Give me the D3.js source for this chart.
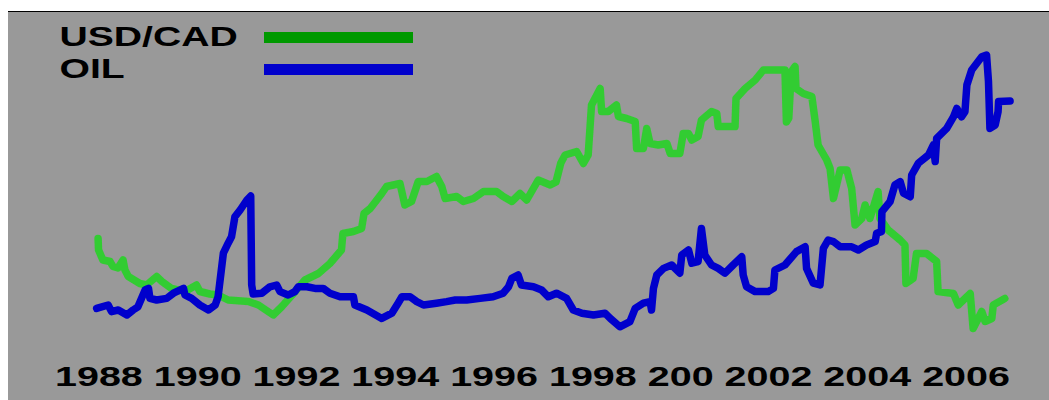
<!DOCTYPE html>
<html>
<head>
<meta charset="utf-8">
<script src="https://cdn.jsdelivr.net/npm/d3@7/dist/d3.min.js"></script>
<style>
  html, body { margin: 0; padding: 0; background: #ffffff; }
  svg { display: block; }
  text { font-family: "Liberation Sans", Arial, sans-serif; font-weight: bold; fill: #000; }
</style>
</head>
<body>
<svg id="chart" width="1049" height="400"></svg>
<script>
// ---- data ----
const seriesNames = ["USD/CAD", "OIL"];
const tickLabels = ["1988", "1990", "1992", "1994", "1996", "1998", "200", "2002", "2004", "2006"];

const cadYears = [1987.96,1987.97,1988.06,1988.21,1988.27,1988.375,1988.48,1988.52,1988.59,1988.83,1988.97,1989.18,1989.29,1989.49,1989.77,1990.01,1990.08,1990.29,1990.46,1990.67,1991.09,1991.30,1991.61,1991.79,1992.03,1992.27,1992.55,1992.79,1993.03,1993.06,1993.28,1993.45,1993.50,1993.63,1993.87,1993.97,1994.25,1994.35,1994.49,1994.63,1994.81,1995.01,1995.12,1995.19,1995.43,1995.57,1995.78,1995.99,1996.26,1996.40,1996.58,1996.75,1996.89,1997.13,1997.38,1997.50,1997.60,1997.69,1997.93,1998.07,1998.17,1998.24,1998.42,1998.45,1998.59,1998.76,1998.80,1998.97,1999.15,1999.18,1999.32,1999.39,1999.46,1999.63,1999.81,1999.88,2000.08,2000.15,2000.26,2000.33,2000.46,2000.53,2000.74,2000.85,2000.88,2001.23,2001.25,2001.44,2001.65,2001.82,2002.06,2002.27,2002.30,2002.35,2002.40,2002.48,2002.50,2002.65,2002.83,2002.90,2002.96,2003.14,2003.21,2003.28,2003.42,2003.56,2003.66,2003.73,2003.87,2003.94,2004.04,2004.21,2004.25,2004.42,2004.67,2004.77,2004.79,2004.94,2005.01,2005.22,2005.43,2005.46,2005.78,2005.88,2006.13,2006.19,2006.37,2006.44,2006.58,2006.61,2006.85];
const cadValues = [1.259,1.236,1.216,1.213,1.203,1.200,1.216,1.196,1.183,1.169,1.166,1.183,1.173,1.159,1.153,1.166,1.153,1.148,1.146,1.136,1.133,1.126,1.106,1.123,1.149,1.176,1.189,1.209,1.236,1.269,1.273,1.279,1.309,1.319,1.349,1.363,1.369,1.326,1.333,1.373,1.373,1.383,1.363,1.339,1.343,1.333,1.339,1.353,1.353,1.343,1.333,1.349,1.336,1.376,1.366,1.372,1.410,1.426,1.433,1.409,1.426,1.526,1.559,1.513,1.513,1.526,1.503,1.499,1.493,1.439,1.439,1.479,1.449,1.446,1.449,1.429,1.429,1.469,1.469,1.456,1.463,1.496,1.513,1.509,1.483,1.483,1.539,1.559,1.576,1.596,1.596,1.596,1.492,1.500,1.592,1.603,1.559,1.549,1.543,1.493,1.446,1.416,1.399,1.339,1.396,1.396,1.359,1.286,1.299,1.326,1.299,1.353,1.299,1.276,1.256,1.246,1.169,1.179,1.229,1.229,1.213,1.153,1.149,1.126,1.149,1.079,1.113,1.093,1.099,1.126,1.139];

const oilYears = [1987.93,1988.17,1988.24,1988.38,1988.56,1988.69,1988.79,1988.94,1989.01,1989.04,1989.18,1989.39,1989.53,1989.74,1989.77,1989.91,1990.08,1990.26,1990.40,1990.46,1990.57,1990.67,1990.74,1990.81,1990.92,1991.06,1991.14,1991.15,1991.16,1991.19,1991.37,1991.54,1991.68,1991.75,1991.92,1992.06,1992.13,1992.31,1992.48,1992.65,1992.79,1993.00,1993.28,1993.31,1993.56,1993.87,1994.08,1994.21,1994.29,1994.46,1994.60,1994.74,1995.01,1995.22,1995.40,1995.64,1995.92,1996.19,1996.40,1996.51,1996.58,1996.71,1996.78,1997.03,1997.20,1997.34,1997.51,1997.72,1997.86,1998.04,1998.28,1998.52,1998.63,1998.83,1999.04,1999.15,1999.32,1999.46,1999.49,1999.53,1999.60,1999.74,1999.91,2000.08,2000.12,2000.26,2000.33,2000.46,2000.53,2000.60,2000.74,2000.88,2001.02,2001.19,2001.37,2001.40,2001.47,2001.65,2001.92,2002.03,2002.06,2002.27,2002.51,2002.69,2002.72,2002.86,2003.00,2003.07,2003.17,2003.28,2003.42,2003.66,2003.80,2003.97,2004.15,2004.18,2004.28,2004.29,2004.46,2004.56,2004.67,2004.74,2004.88,2004.91,2005.05,2005.26,2005.36,2005.40,2005.43,2005.64,2005.78,2005.85,2005.95,2006.02,2006.06,2006.16,2006.37,2006.47,2006.51,2006.54,2006.65,2006.71,2006.72,2006.96];
const oilValues = [15.9,16.75,15.1,15.5,14.25,15.5,16.3,20.5,20.9,18.4,18.0,18.4,19.7,20.9,19.25,18.4,16.75,15.5,16.75,18.8,29.7,32.2,33.8,38.8,40.5,43.0,44.0,33.0,21.75,19.5,19.7,21.3,21.75,20.1,19.25,20.1,21.3,21.3,20.9,20.9,19.7,18.8,18.8,16.75,15.5,13.4,14.7,17.2,18.8,18.8,17.6,16.75,17.2,17.6,18.0,18.0,18.4,18.8,19.7,21.3,23.4,24.25,21.75,21.3,20.5,18.8,19.7,18.4,15.5,14.7,14.25,14.7,13.4,11.3,12.6,15.9,17.2,17.6,15.5,20.9,24.25,25.9,26.75,24.7,29.25,30.5,27.2,27.6,35.9,29.25,26.75,25.9,24.7,26.75,28.8,24.25,21.3,20.1,20.1,20.9,25.5,26.75,30.1,31.3,25.9,22.2,21.75,30.9,33.0,32.6,31.3,31.3,30.5,31.75,32.6,34.7,35.1,40.1,42.6,46.75,47.6,44.7,43.8,49.25,52.2,54.25,56.75,52.6,58.4,60.9,63.8,65.9,63.8,65.1,71.75,75.5,78.8,79.25,72.6,60.9,61.75,65.1,67.6,67.75];

// ---- layout / scales ----
const svg = d3.select("#chart");
const W = 1049, H = 400;

const defs = svg.append("defs");
defs.append("filter").attr("id", "soft")
  .attr("x", "-5%").attr("y", "-5%").attr("width", "110%").attr("height", "110%")
  .append("feGaussianBlur").attr("stdDeviation", 0.6);

svg.append("rect").attr("x", 8).attr("y", 11).attr("width", W - 8).attr("height", H - 11).attr("fill", "#999999");
svg.append("line").attr("x1", 8).attr("x2", W).attr("y1", 11.5).attr("y2", 11.5).attr("stroke", "#000").attr("stroke-width", 1);

const x = d3.scaleLinear().domain([1988, 2006]).range([100, 964]);
const yCad = d3.scaleLinear().domain([1.0, 1.7]).range([368, 18]);
const yOil = d3.scaleLinear().domain([0, 90]).range([372, 12]);

const cadData = cadYears.map((t, i) => [t, cadValues[i]]);
const oilData = oilYears.map((t, i) => [t, oilValues[i]]);

const cadLine = d3.line().x(d => x(d[0])).y(d => yCad(d[1]));
const oilLine = d3.line().x(d => x(d[0])).y(d => yOil(d[1]));

const plot = svg.append("g").attr("filter", "url(#soft)");
plot.append("path").datum(cadData).attr("d", cadLine)
  .attr("fill", "none").attr("stroke", "#33cc33").attr("stroke-width", 7.5)
  .attr("stroke-linejoin", "round").attr("stroke-linecap", "round");
plot.append("path").datum(oilData).attr("d", oilLine)
  .attr("fill", "none").attr("stroke", "#0000cc").attr("stroke-width", 7.5)
  .attr("stroke-linejoin", "round").attr("stroke-linecap", "round");

// ---- legend ----
const legendColors = ["#009900", "#0000cc"];
const legend = svg.append("g");
seriesNames.forEach((name, i) => {
  const by = 46 + i * 32;
  legend.append("text")
    .attr("transform", `translate(59.5,${by}) scale(1.45,1)`)
    .attr("font-size", 27)
    .text(name);
  legend.append("line")
    .attr("x1", 264).attr("x2", 413)
    .attr("y1", by - 8.5).attr("y2", by - 8.5)
    .attr("stroke", legendColors[i]).attr("stroke-width", 11);
});

// ---- x tick labels ----
svg.append("text")
  .attr("x", 55).attr("y", 386)
  .attr("font-size", 27)
  .attr("textLength", 955)
  .attr("lengthAdjust", "spacingAndGlyphs")
  .text(tickLabels.join(" "));
</script>
</body>
</html>
